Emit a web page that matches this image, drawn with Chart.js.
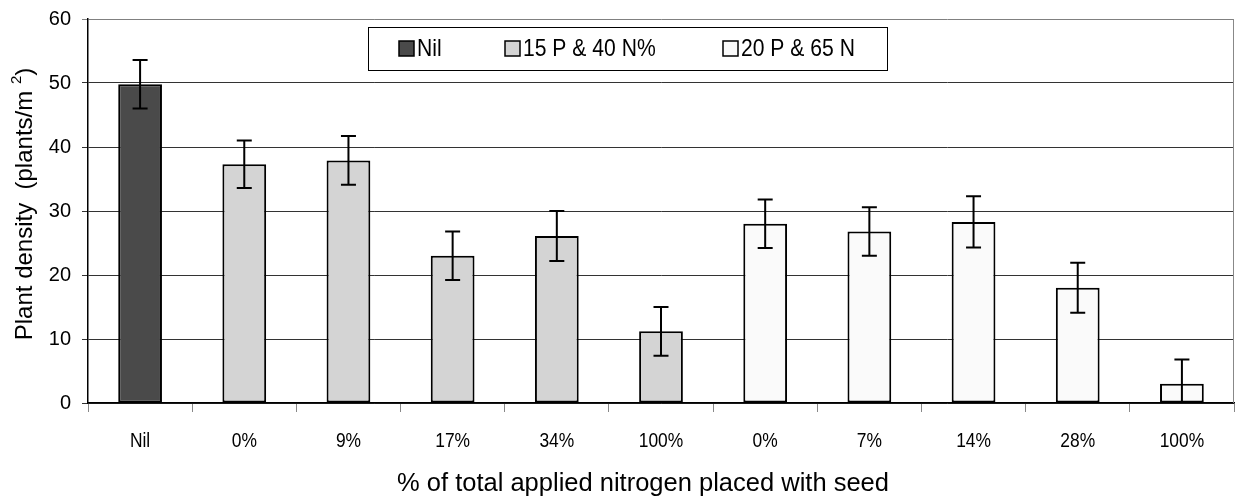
<!DOCTYPE html>
<html>
<head>
<meta charset="utf-8">
<script src="https://cdn.jsdelivr.net/npm/chart.js@4.4.1/dist/chart.umd.min.js"></script>
<style>
  body { margin: 0; background: #fff; }
  #wrap { width: 1235px; height: 499px; position: relative; }
</style>
</head>
<body>
<div id="wrap"><canvas id="chart"></canvas></div>
<script>
const categories = ["Nil", "0%", "9%", "17%", "34%", "100%", "0%", "7%", "14%", "28%", "100%"];
const nilValues = [49.8, null, null, null, null, null, null, null, null, null, null];
const p15Values = [null, 37.3, 37.9, 23.0, 26.1, 11.2, null, null, null, null, null];
const p20Values = [null, null, null, null, null, null, 28.0, 26.8, 28.3, 18.0, 3.0];
const errorValues = [3.8, 3.7, 3.8, 3.8, 3.9, 3.8, 3.8, 3.8, 4.0, 3.9, 3.8];
const seriesNames = ["Nil", "15 P & 40 N%", "20 P & 65 N"];
const yTicks = [0, 10, 20, 30, 40, 50, 60];

const sans = "'Liberation Sans', Arial, sans-serif";

// draw text squeezed horizontally, to mimic the narrow face of the original
function narrowText(ctx, text, x, y, size, squeeze, align) {
  ctx.save();
  ctx.font = size + "px " + sans;
  ctx.textAlign = align;
  ctx.textBaseline = "middle";
  ctx.translate(x, y);
  ctx.scale(squeeze, 1);
  ctx.fillText(text, 0, 0);
  ctx.restore();
}

const extras = {
  id: "extras",
  afterDatasetsDraw(chart) {
    const ctx = chart.ctx;
    const area = chart.chartArea;
    const y = chart.scales.y;
    ctx.save();
    ctx.beginPath();
    ctx.rect(area.left, area.top, area.right - area.left, area.bottom - area.top);
    ctx.clip();
    ctx.strokeStyle = "#000";
    ctx.lineWidth = 2;
    categories.forEach((c, i) => {
      chart.data.datasets.forEach((ds, d) => {
        const v = ds.data[i];
        if (v == null) return;
        const bar = chart.getDatasetMeta(d).data[i];
        const top = y.getPixelForValue(v + errorValues[i]);
        const bot = y.getPixelForValue(v - errorValues[i]);
        ctx.beginPath();
        ctx.moveTo(bar.x, top); ctx.lineTo(bar.x, bot);
        ctx.moveTo(bar.x - 7.5, top); ctx.lineTo(bar.x + 7.5, top);
        ctx.moveTo(bar.x - 7.5, bot); ctx.lineTo(bar.x + 7.5, bot);
        ctx.stroke();
      });
    });
    ctx.restore();

    // right border of plot
    ctx.save();
    ctx.strokeStyle = "#888";
    ctx.lineWidth = 1;
    ctx.beginPath();
    ctx.moveTo(area.right - 0.5, area.top);
    ctx.lineTo(area.right - 0.5, area.bottom);
    ctx.stroke();
    ctx.restore();
  },
  afterDraw(chart) {
    const ctx = chart.ctx;
    const xs = chart.scales.x;
    ctx.save();
    ctx.fillStyle = "#000";
    categories.forEach((c, i) => {
      narrowText(ctx, c, xs.getPixelForValue(i), 441, 20, 0.87, "center");
    });

    // legend
    ctx.fillStyle = "#fff";
    ctx.fillRect(368, 27, 519, 43);
    ctx.strokeStyle = "#000";
    ctx.lineWidth = 1;
    ctx.strokeRect(368.5, 27.5, 519, 43);
    const swX = [399, 505, 723];
    chart.data.datasets.forEach((ds, d) => {
      ctx.fillStyle = ds.backgroundColor;
      ctx.fillRect(swX[d], 41, 15, 15);
      ctx.lineWidth = 1.5;
      ctx.strokeStyle = "#000";
      ctx.strokeRect(swX[d], 41, 15, 15);
      ctx.fillStyle = "#000";
      narrowText(ctx, ds.label, swX[d] + 18, 49, 24, 0.88, "left");
    });

    // x title
    ctx.fillStyle = "#000";
    ctx.font = "25.5px " + sans;
    ctx.textAlign = "center";
    ctx.textBaseline = "middle";
    ctx.fillText("% of total applied nitrogen placed with seed", 643, 484);

    // y title with superscript
    ctx.translate(25, 204);
    ctx.rotate(-Math.PI / 2);
    ctx.textAlign = "left";
    const main = "Plant density  (plants/m ";
    ctx.font = "24px " + sans;
    const w1 = ctx.measureText(main).width;
    ctx.font = "15px " + sans;
    const w2 = ctx.measureText("2").width;
    ctx.font = "24px " + sans;
    const w3 = ctx.measureText(")").width;
    const x0 = -(w1 + w2 + w3) / 2;
    ctx.fillText(main, x0, 0);
    ctx.font = "15px " + sans;
    ctx.fillText("2", x0 + w1, -8);
    ctx.font = "24px " + sans;
    ctx.fillText(")", x0 + w1 + w2, 0);
    ctx.restore();
  }
};

new Chart(document.getElementById("chart"), {
  type: "bar",
  data: {
    labels: categories,
    datasets: [
      { label: seriesNames[0], data: nilValues, backgroundColor: "#4a4a4a" },
      { label: seriesNames[1], data: p15Values, backgroundColor: "#d4d4d4" },
      { label: seriesNames[2], data: p20Values, backgroundColor: "#fafafa" }
    ].map(ds => Object.assign(ds, {
      borderColor: "#000",
      borderWidth: 2,
      borderSkipped: false,
      skipNull: true,
      barPercentage: 0.42,
      categoryPercentage: 1.0
    }))
  },
  options: {
    responsive: true,
    maintainAspectRatio: false,
    animation: false,
    layout: { padding: { top: 19, right: 1, left: 0, bottom: 0 } },
    plugins: { legend: { display: false }, tooltip: { enabled: false } },
    scales: {
      x: {
        afterFit: (s) => { s.height = 96; s.paddingLeft = 0; s.paddingRight = 0; },
        grid: { drawOnChartArea: false, drawTicks: true, tickLength: 9, color: "#888", offset: true },
        border: { color: "#000", width: 1.5 },
        ticks: { display: false }
      },
      y: {
        min: 0,
        max: 60,
        afterFit: (s) => { s.width = 88; s.paddingTop = 0; s.paddingBottom = 0; },
        afterBuildTicks: (s) => { s.ticks = yTicks.map(v => ({ value: v })); },
        grid: {
          color: (c) => c.tick && c.tick.value === 60 ? "#808080" : "#333",
          tickLength: 6,
          lineWidth: 1
        },
        border: { color: "#000", width: 1.5 },
        ticks: { color: "#000", font: { family: sans, size: 20 }, padding: 11 }
      }
    }
  },
  plugins: [extras]
});
</script>
</body>
</html>
